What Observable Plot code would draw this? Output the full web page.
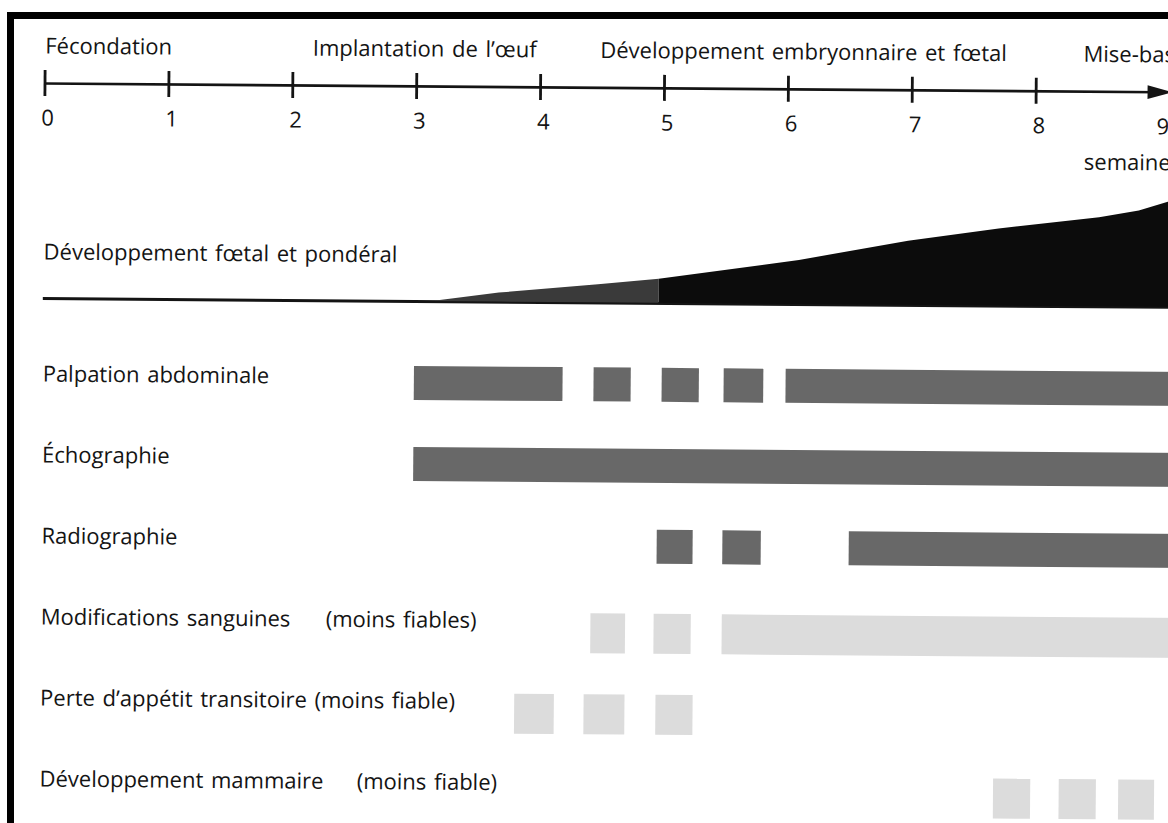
<!DOCTYPE html>
<html><head><meta charset="utf-8">
<script src="https://cdn.jsdelivr.net/npm/d3@7"></script>
<script src="https://cdn.jsdelivr.net/npm/@observablehq/plot@0.6"></script>
<style>
html,body{margin:0;padding:0;background:#fff;overflow:hidden;width:1168px;height:823px;}
#frame{position:absolute;left:7px;top:12px;width:1220px;height:900px;border-left:7px solid #000;border-top:7px solid #000;box-sizing:border-box;pointer-events:none;z-index:2;}
#chart{position:absolute;left:0;top:0;width:1168px;transform:rotate(0.45deg);transform-origin:44px 83px;}
#chart svg{display:block;overflow:visible;word-spacing:2px;}
</style></head><body>
<div id="chart"></div><div id="frame"></div>
<script>
// ---- data ----
const weeks = [0, 1, 2, 3, 4, 5, 6, 7, 8, 9];
const tickWeeks = [0, 1, 2, 3, 4, 5, 6, 7, 8];
const arrowWeek = [9];
const phaseLabels = ["Fécondation", "Implantation de l’œuf", "Développement embryonnaire et fœtal", "Mise-bas"];
const phaseStarts = [0, 2.16, 4.48, 8.38];
const unitLabel = "semaines";
const unitStart = 8.39;

const growthLabel = "Développement fœtal et pondéral";
const growthWeeks  = [0, 3.14, 3.68, 4.48, 4.97, 6.1, 6.98, 7.71, 8.52, 8.84, 9.1];
const growthValues = [0, 0,    9,    18,   24,   44,  64,   77,   89,   96,   106];
const growthShadeSplit = 4.97;

const rows = [
  "Palpation abdominale",
  "Échographie",
  "Radiographie",
  "Modifications sanguines",
  "Perte d’appétit transitoire (moins fiable)",
  "Développement mammaire"
];
const notes = ["", "", "", "(moins fiables)", "", "(moins fiable)"];
const noteStarts = [null, null, null, 2.3, null, 2.56];
const reliable = [true, true, true, false, false, false];
const periods = [
  [[3, 4.2], [4.45, 4.75], [5, 5.3], [5.5, 5.82], [6, 9.3]],
  [[3, 9.3]],
  [[4.97, 5.26], [5.5, 5.81], [6.52, 9.3]],
  [[4.44, 4.72], [4.95, 5.25], [5.5, 9.3]],
  [[3.83, 4.15], [4.39, 4.72], [4.97, 5.27]],
  [[7.7, 8.0], [8.23, 8.53], [8.71, 9.0]]
];

// ---- derived tables ----
const phases = phaseLabels.map((label, i) => ({label, start: phaseStarts[i]}));
const growth = growthWeeks.map((w, i) => ({w, v: growthValues[i]}));
const growthEarly = growth.filter(d => d.w <= growthShadeSplit);
const growthLate = growth.filter(d => d.w >= growthShadeSplit);
const segments = periods.flatMap((list, i) => list.map(([a, b]) => ({row: rows[i], x1: a, x2: b, reliable: reliable[i]})));
const noteData = notes.map((text, i) => ({row: rows[i], text, at: noteStarts[i]})).filter(d => d.text);

const FONT = "'Open Sans', 'Noto Sans', sans-serif";
const INK = "#141414";
const xScale = {domain: [0, 9], range: [44.5, 1159.6], axis: null};
const baseStyle = {fontFamily: FONT, fontSize: "22px", color: INK, background: "transparent", overflow: "visible"};

const arrowHead = {
  draw(ctx, size) {
    const r = Math.sqrt(size / Math.PI);
    ctx.moveTo(r, 0);
    ctx.lineTo(-r, -0.55 * r);
    ctx.lineTo(-r, 0.55 * r);
    ctx.closePath();
  }
};

const chart = document.getElementById("chart");

// ---- timeline ----
chart.append(Plot.plot({
  width: 1168, height: 185, marginTop: 70, marginBottom: 89, marginLeft: 0, marginRight: 0,
  x: xScale, y: {domain: [-1, 1], axis: null},
  style: baseStyle,
  marks: [
    Plot.ruleY([0], {x1: weeks[0], x2: weeks[weeks.length - 1], stroke: INK, strokeWidth: 2.6}),
    Plot.ruleX(tickWeeks, {x: d => d, y1: -1, y2: 1, stroke: INK, strokeWidth: 2.8}),
    Plot.dot(arrowWeek, {x: d => d, y: 0, r: 12.5, symbol: arrowHead, fill: INK, stroke: null}),
    Plot.text(weeks, {x: d => d, text: d => String(d), frameAnchor: "bottom", lineAnchor: "middle", dy: 22, dx: 3, fill: INK}),
    Plot.text(phases, {x: "start", text: "label", frameAnchor: "top", lineAnchor: "middle", dy: -24, textAnchor: "start", fill: INK}),
    Plot.text([unitLabel], {x: () => unitStart, text: d => d, frameAnchor: "bottom", lineAnchor: "middle", dy: 58, textAnchor: "start", fill: INK})
  ]
}));

// ---- foetal growth ----
chart.append(Plot.plot({
  width: 1168, height: 140, marginTop: 3, marginBottom: 27, marginLeft: 0, marginRight: 0,
  x: xScale, y: {domain: [0, 110], axis: null},
  style: baseStyle,
  marks: [
    Plot.ruleY([0], {x1: growthWeeks[0], x2: growthWeeks[growthWeeks.length - 1], stroke: INK, strokeWidth: 3}),
    Plot.areaY(growthEarly, {x: "w", y: "v", fill: "#3a3a3a"}),
    Plot.areaY(growthLate, {x: "w", y: "v", fill: "#0c0c0c"}),
    Plot.text([growthLabel], {x: () => 0, text: d => d, frameAnchor: "top", lineAnchor: "middle", dy: 64, textAnchor: "start", fill: INK})
  ]
}));

// ---- diagnostic methods ----
const step = 81.6, first = 47;
chart.append(Plot.plot({
  width: 1168, height: 498, marginTop: 0, marginBottom: 0, marginLeft: 0, marginRight: 0,
  x: xScale,
  y: {type: "band", domain: rows, range: [first - step / 2, first - step / 2 + rows.length * step],
      paddingInner: 1 - 42 / step, paddingOuter: (1 - 42 / step) / 2, axis: null},
  style: baseStyle,
  marks: [
    Plot.barX(segments.filter(d => d.reliable), {y: "row", x1: "x1", x2: "x2", fill: "#686868", insetTop: 4, insetBottom: 4, dy: 6}),
    Plot.barX(segments.filter(d => !d.reliable), {y: "row", x1: "x1", x2: "x2", fill: "#dcdcdc", insetTop: 1, insetBottom: 1, dy: 12}),
    Plot.text(rows, {y: d => d, x: () => 0, text: d => d, textAnchor: "start", fill: INK}),
    Plot.text(noteData, {y: "row", x: "at", text: "text", textAnchor: "start", fill: INK})
  ]
}));
</script>
</body></html>
